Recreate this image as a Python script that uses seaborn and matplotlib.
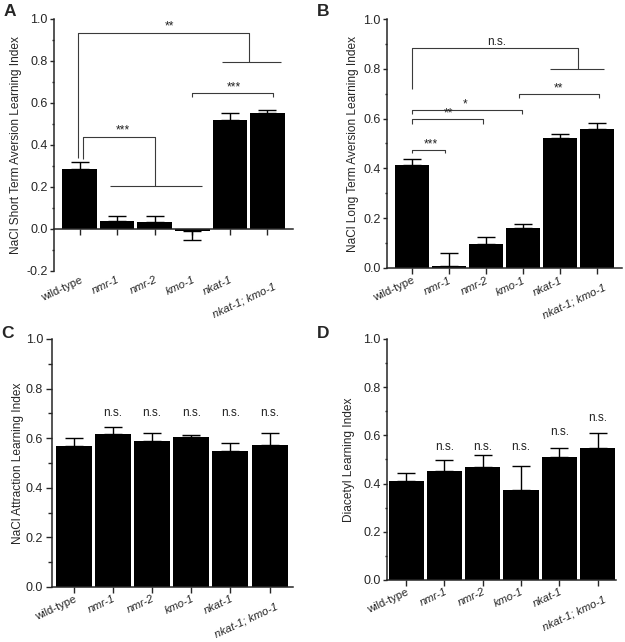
import numpy as np
import matplotlib
matplotlib.use("Agg")
import matplotlib.pyplot as plt
import matplotlib.transforms as mtransforms
from matplotlib.ticker import MultipleLocator, FormatStrFormatter
import seaborn as sns

# ---------------- data ----------------
genotypes = ["wild-type", "nmr-1", "nmr-2", "kmo-1", "nkat-1", "nkat-1; kmo-1"]

short_term_mean = [0.286, 0.040, 0.035, -0.012, 0.519, 0.552]
short_term_sem = [0.034, 0.023, 0.027, 0.040, 0.035, 0.015]

long_term_mean = [0.415, 0.008, 0.098, 0.160, 0.523, 0.560]
long_term_sem = [0.021, 0.051, 0.025, 0.016, 0.016, 0.024]

attraction_mean = [0.569, 0.618, 0.589, 0.606, 0.550, 0.572]
attraction_sem = [0.031, 0.028, 0.030, 0.008, 0.029, 0.047]

diacetyl_mean = [0.412, 0.454, 0.470, 0.373, 0.512, 0.549]
diacetyl_sem = [0.033, 0.044, 0.049, 0.101, 0.036, 0.062]

ylabels = ["NaCl Short Term Aversion Learning Index",
           "NaCl Long Term Aversion Learning Index",
           "NaCl Attraction Learning Index",
           "Diacetyl Learning Index"]
panel_letters = ["A", "B", "C", "D"]

# significance labels
c_sig = ["n.s."] * 5
d_sig = ["n.s."] * 5

# ---------------- style ----------------
sns.set_style("ticks")
plt.rcParams["font.family"] = ["Liberation Sans", "DejaVu Sans"]
FS = 8.6
TFS = 9.0
XFS = 8.0
LC = "#3a3a3a"

fig = plt.figure(figsize=(6.25, 6.42), dpi=100)

axA = fig.add_axes([0.0864, 0.578, 0.3824, 0.3925])
axB = fig.add_axes([0.6192, 0.5826, 0.376, 0.3878])
axC = fig.add_axes([0.0832, 0.0857, 0.3856, 0.3863])
axD = fig.add_axes([0.6192, 0.0966, 0.3664, 0.3754])


def draw_panel(ax, mean, sem, ylabel, ymin, xlim, xpad, ylen, ypad, lpad):
    sns.barplot(x=genotypes, y=mean, color="black", saturation=1, width=0.92,
                errorbar=None, ax=ax, edgecolor="none")
    pos = np.arange(len(genotypes))
    m = np.array(mean)
    s = np.array(sem)
    lower = np.where(m < 0, s, 0)
    upper = np.where(m >= 0, s, 0)
    ax.errorbar(pos, m, yerr=[lower, upper], fmt="none", ecolor="black",
                elinewidth=1.0, capsize=6.5, capthick=1.0)
    ax.set_ylim(ymin, 1.0)
    ax.set_xlim(*xlim)
    ax.yaxis.set_major_locator(MultipleLocator(0.2))
    ax.yaxis.set_minor_locator(MultipleLocator(0.1))
    ax.yaxis.set_major_formatter(FormatStrFormatter("%.1f"))
    for sp in ["top", "right"]:
        ax.spines[sp].set_visible(False)
    ax.spines["left"].set_linewidth(1.1)
    ax.spines["bottom"].set_linewidth(1.1)
    ax.spines["bottom"].set_position(("data", 0))
    ax.tick_params(axis="y", which="major", length=ylen, width=1.0,
                   labelsize=TFS, pad=ypad, direction="out")
    ax.tick_params(axis="y", which="minor", length=ylen * 0.6, width=1.0, direction="out")
    ax.tick_params(axis="x", which="major", length=4, width=1.0,
                   labelsize=XFS, pad=xpad, direction="out")
    ax.set_xlabel("")
    ax.set_ylabel(ylabel, fontsize=FS, labelpad=lpad)
    ax.set_xticks(pos)
    ax.set_xticklabels(genotypes, rotation=25, ha="right", va="top",
                       rotation_mode="anchor")
    labs = ax.get_xticklabels()
    for i, lab in enumerate(labs):
        if i > 0:
            lab.set_style("italic")
    off = mtransforms.ScaledTranslation(6 / 100, -7 / 100, fig.dpi_scale_trans)
    labs[-1].set_transform(labs[-1].get_transform() + off)


draw_panel(axA, short_term_mean, short_term_sem, ylabels[0], -0.2, (-0.68, 5.68), 29,
           3.0, 1.5, 3)
draw_panel(axB, long_term_mean, long_term_sem, ylabels[1], 0.0, (-0.68, 5.68), 1.5,
           3.0, 1.5, 3.5)
draw_panel(axC, attraction_mean, attraction_sem, ylabels[2], 0.0, (-0.56, 5.6), 1.0,
           4.5, 2.0, 1.5)
draw_panel(axD, diacetyl_mean, diacetyl_sem, ylabels[3], 0.0, (-0.5, 5.48), 1.0,
           3.0, 1.5, 6)


def line(ax, xs, ys):
    ax.plot(xs, ys, color=LC, lw=0.8, solid_capstyle="butt")


def bracket(ax, x1, x2, y, drop, text, tx, ty):
    line(ax, [x1, x1, x2, x2], [y - drop, y, y, y - drop])
    ax.text(tx, ty, text, ha="center", va="bottom", fontsize=FS, color="#222222")


# ---- panel A annotations ----
line(axA, [-0.05, -0.05, 4.5, 4.5], [0.337, 0.935, 0.935, 0.794])
line(axA, [3.8, 5.37], [0.794, 0.794])
axA.text(2.4, 0.935, "**", ha="center", va="bottom", fontsize=FS, color="#222222")
line(axA, [0.1, 0.1, 2.0, 2.0], [0.332, 0.44, 0.44, 0.206])
line(axA, [0.8, 3.25], [0.206, 0.206])
axA.text(1.15, 0.44, "***", ha="center", va="bottom", fontsize=FS, color="#222222")
bracket(axA, 3.0, 5.15, 0.646, 0.02, "***", 4.1, 0.646)

# ---- panel B annotations ----
line(axB, [0, 0, 4.5, 4.5], [0.717, 0.885, 0.885, 0.799])
line(axB, [3.74, 5.2], [0.799, 0.799])
axB.text(2.3, 0.885, "n.s.", ha="center", va="bottom", fontsize=FS, color="#222222")
bracket(axB, 2.9, 5.07, 0.698, 0.015, "**", 3.95, 0.698)
bracket(axB, 0.0, 2.98, 0.634, 0.016, "*", 1.44, 0.634)
bracket(axB, 0.0, 1.92, 0.598, 0.018, "**", 0.99, 0.598)
bracket(axB, 0.0, 0.88, 0.473, 0.013, "***", 0.5, 0.473)

# ---- panel C / D annotations ----
for i, t in enumerate(c_sig):
    axC.text(i + 1, 0.70, t, ha="center", va="center", fontsize=FS, color="#222222")
d_y = [0.553, 0.553, 0.553, 0.613, 0.674]
for i, t in enumerate(d_sig):
    axD.text(i + 1, d_y[i], t, ha="center", va="center", fontsize=FS, color="#222222")

# ---- panel letters ----
fig.text(10 / 625, 1 - 12 / 642, "A", fontsize=12.5, fontweight="bold", ha="center", va="center")
fig.text(323 / 625, 1 - 12 / 642, "B", fontsize=12.5, fontweight="bold", ha="center", va="center")
fig.text(8 / 625, 1 - 333 / 642, "C", fontsize=12.5, fontweight="bold", ha="center", va="center")
fig.text(323 / 625, 1 - 333 / 642, "D", fontsize=12.5, fontweight="bold", ha="center", va="center")

fig.savefig("out.png", dpi=100)
